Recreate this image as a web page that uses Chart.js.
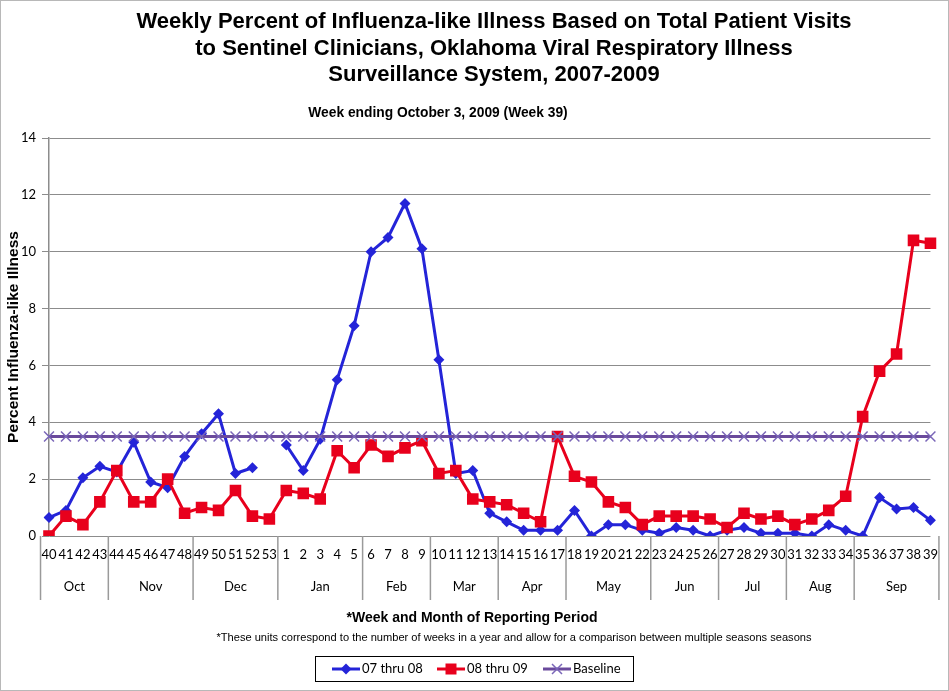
<!DOCTYPE html>
<html>
<head>
<meta charset="utf-8">
<title>ILI Oklahoma 2007-2009</title>
<script src="https://cdn.jsdelivr.net/npm/chart.js@4.4.1/dist/chart.umd.min.js"></script>
<style>
  html, body { margin: 0; padding: 0; background: #fff; }
  canvas { display: block; }
</style>
</head>
<body>
<canvas id="chart" width="949" height="691"></canvas>
<script>
// week numbers on the x axis (season runs week 40 -> week 39)
const weeks = ['40','41','42','43','44','45','46','47','48','49','50','51','52','53',
  '1','2','3','4','5','6','7','8','9','10','11','12','13','14','15','16','17','18','19','20',
  '21','22','23','24','25','26','27','28','29','30','31','32','33','34','35','36','37','38','39'];

// months under the week numbers, and how many weeks each one covers
const months = ['Oct','Nov','Dec','Jan','Feb','Mar','Apr','May','Jun','Jul','Aug','Sep'];
const monthWeeks = [4, 5, 5, 5, 4, 4, 4, 5, 4, 4, 4, 5];

// percent ILI, 2007-08 season (no report for week 53)
const season0708 = [0.65, 0.9, 2.05, 2.45, 2.25, 3.3, 1.9, 1.7, 2.8, 3.6, 4.3, 2.2, 2.4, null,
  3.2, 2.3, 3.4, 5.5, 7.4, 10.0, 10.5, 11.7, 10.1, 6.2, 2.2, 2.3, 0.8, 0.5, 0.2, 0.2, 0.2, 0.9, 0.0, 0.4,
  0.4, 0.2, 0.1, 0.3, 0.2, 0.0, 0.2, 0.3, 0.1, 0.1, 0.1, 0.0, 0.4, 0.2, 0.0, 1.35, 0.95, 1.0, 0.55];

// percent ILI, 2008-09 season
const season0809 = [0.0, 0.7, 0.4, 1.2, 2.3, 1.2, 1.2, 2.0, 0.8, 1.0, 0.9, 1.6, 0.7, 0.6,
  1.6, 1.5, 1.3, 3.0, 2.4, 3.2, 2.8, 3.1, 3.35, 2.2, 2.3, 1.3, 1.2, 1.1, 0.8, 0.5, 3.5, 2.1, 1.9, 1.2,
  1.0, 0.4, 0.7, 0.7, 0.7, 0.6, 0.3, 0.8, 0.6, 0.7, 0.4, 0.6, 0.9, 1.4, 4.2, 5.8, 6.4, 10.4, 10.3];

const baseline = weeks.map(() => 3.5);

const titleLines = ['Weekly Percent of Influenza-like Illness Based on Total Patient Visits',
  'to Sentinel Clinicians, Oklahoma Viral Respiratory Illness',
  'Surveillance System, 2007-2009'];
const subtitle = 'Week ending October 3, 2009 (Week 39)';

const BLUE = '#2424d8';
const RED = '#e8001c';
const PURPLE = '#6a4a9c';
const PURPLE_X = '#7a66b8';
const GRID = '#8c8c8c';
const tickFont = "Lato, 'Open Sans', sans-serif";
const arial = "'Liberation Sans', Arial, sans-serif";

function marker(ctx, style, x, y, color) {
  ctx.save();
  ctx.fillStyle = color;
  ctx.strokeStyle = color;
  ctx.beginPath();
  if (style === 'rectRot') {
    ctx.moveTo(x - 5.5, y); ctx.lineTo(x, y - 5.5); ctx.lineTo(x + 5.5, y); ctx.lineTo(x, y + 5.5);
    ctx.closePath(); ctx.fill();
  } else if (style === 'rect') {
    ctx.rect(x - 5.5, y - 5.5, 11, 11); ctx.fill();
  } else {
    ctx.lineWidth = 1.5;
    ctx.moveTo(x - 5, y - 5); ctx.lineTo(x + 5, y + 5);
    ctx.moveTo(x + 5, y - 5); ctx.lineTo(x - 5, y + 5);
    ctx.stroke();
  }
  ctx.restore();
}

const extras = {
  id: 'extras',
  beforeDraw(chart) {
    const ctx = chart.ctx;
    ctx.save();
    ctx.fillStyle = '#fff';
    ctx.fillRect(0, 0, chart.width, chart.height);
    ctx.restore();
  },
  afterDraw(chart) {
    const ctx = chart.ctx;
    const xs = chart.scales.x;
    const area = chart.chartArea;
    const half = (xs.getPixelForValue(1) - xs.getPixelForValue(0)) / 2;

    ctx.save();
    ctx.fillStyle = '#000';
    ctx.textAlign = 'center';
    ctx.textBaseline = 'middle';

    // title block (centred a little right of the canvas middle, like the original)
    ctx.font = 'bold 22px ' + arial;
    titleLines.forEach((t, i) => ctx.fillText(t, 494, 22 + i * 26.5));
    ctx.font = 'bold 13.8px ' + arial;
    ctx.fillText(subtitle, 438, 113);

    // month separators + month names
    ctx.strokeStyle = '#9a9a9a';
    ctx.lineWidth = 1.5;
    ctx.font = '13px ' + tickFont;
    let start = 0;
    for (let m = 0; m <= months.length; m++) {
      const bx = m < months.length ? xs.getPixelForValue(start) - half
                                   : xs.getPixelForValue(weeks.length - 1) + half;
      ctx.beginPath();
      ctx.moveTo(bx, area.bottom);
      ctx.lineTo(bx, 600);
      ctx.stroke();
      if (m < months.length) {
        const end = start + monthWeeks[m] - 1;
        const cx = (xs.getPixelForValue(start) + xs.getPixelForValue(end)) / 2;
        ctx.fillText(months[m], cx, 587);
        start = end + 1;
      }
    }

    // axis title and footnote
    ctx.font = 'bold 14px ' + arial;
    ctx.fillText('*Week and Month of Reporting Period', 472, 618);
    ctx.font = '11.1px ' + arial;
    ctx.fillText('*These units correspond to the number of weeks in a year and allow for a comparison between multiple seasons seasons', 514, 638);

    // legend
    ctx.strokeStyle = '#000';
    ctx.lineWidth = 1;
    ctx.strokeRect(315.5, 656.5, 318, 25);
    const items = [
      { x: 332, text: chart.data.datasets[0].label, color: BLUE, style: 'rectRot' },
      { x: 437, text: chart.data.datasets[1].label, color: RED, style: 'rect' },
      { x: 543, text: chart.data.datasets[2].label, color: PURPLE, style: 'crossRot' }
    ];
    ctx.font = '13px ' + tickFont;
    ctx.textAlign = 'left';
    items.forEach(it => {
      ctx.strokeStyle = it.color;
      ctx.lineWidth = 3;
      ctx.beginPath();
      ctx.moveTo(it.x, 669);
      ctx.lineTo(it.x + 28, 669);
      ctx.stroke();
      marker(ctx, it.style, it.x + 14, 669, it.style === 'crossRot' ? PURPLE_X : it.color);
      ctx.fillStyle = '#000';
      ctx.fillText(it.text, it.x + 30, 669);
    });

    // outer frame
    ctx.strokeStyle = '#b8b8b8';
    ctx.lineWidth = 1;
    ctx.strokeRect(0.5, 0.5, chart.width - 1, chart.height - 1);
    ctx.restore();
  }
};

const ctx = document.getElementById('chart').getContext('2d');
new Chart(ctx, {
  type: 'line',
  data: {
    labels: weeks,
    datasets: [{
      label: '07 thru 08',
      data: season0708,
      borderColor: BLUE,
      backgroundColor: BLUE,
      borderWidth: 3,
      pointStyle: 'rectRot',
      pointRadius: 5.5,
      pointBorderWidth: 0,
      spanGaps: false,
      order: 3
    }, {
      label: '08 thru 09',
      data: season0809,
      borderColor: RED,
      backgroundColor: RED,
      borderWidth: 3,
      pointStyle: 'rect',
      pointRadius: 8.2,
      pointBorderWidth: 0,
      order: 2
    }, {
      label: 'Baseline',
      data: baseline,
      borderColor: PURPLE,
      backgroundColor: PURPLE_X,
      pointBorderColor: PURPLE_X,
      borderWidth: 3,
      pointStyle: 'crossRot',
      pointRadius: 7,
      pointBorderWidth: 1.5,
      order: 1
    }]
  },
  options: {
    responsive: false,
    animation: false,
    devicePixelRatio: 1,
    layout: { padding: { left: 4, right: 10, top: 138, bottom: 0 } },
    plugins: {
      legend: { display: false },
      tooltip: { enabled: false },
      title: { display: false },
      subtitle: { display: false }
    },
    scales: {
      x: {
        grid: { display: false, drawTicks: false },
        border: { display: false },
        ticks: { color: '#000', font: { family: tickFont, size: 13 }, padding: 11, autoSkip: false, maxRotation: 0 },
        afterFit(scale) { scale.height = 155; }
      },
      y: {
        min: 0,
        max: 14,
        ticks: { stepSize: 2, color: '#000', font: { family: tickFont, size: 13 }, padding: 6 },
        grid: { color: GRID, lineWidth: 1, tickLength: 7 },
        border: { color: GRID, width: 1.5 },
        title: {
          display: true,
          text: 'Percent Influenza-like Illness',
          color: '#000',
          font: { family: arial, size: 15.5, weight: 'bold' },
          padding: { top: 0, bottom: 0 }
        },
        afterFit(scale) { scale.width = 45; }
      }
    }
  },
  plugins: [extras]
});
</script>
</body>
</html>
